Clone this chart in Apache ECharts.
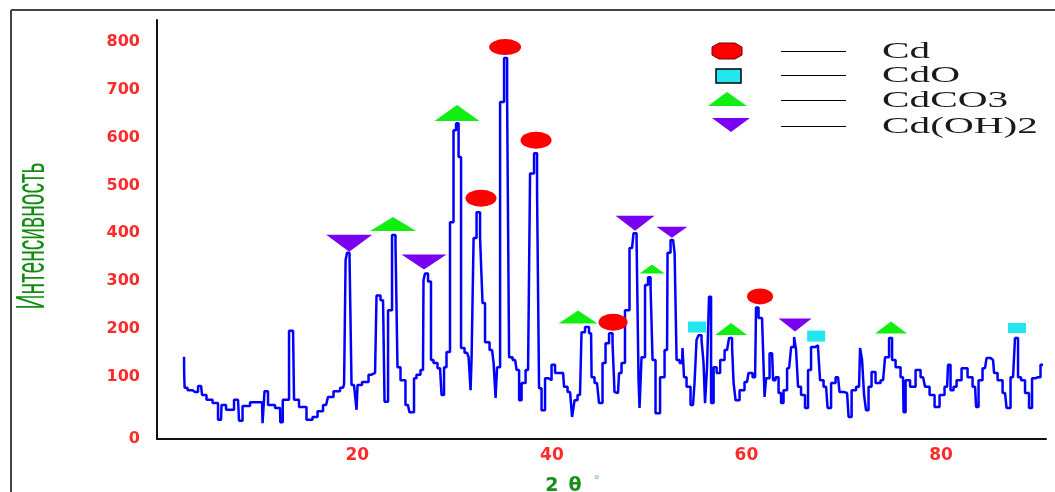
<!DOCTYPE html>
<html>

	<head>
		<meta charset="utf-8">
		<title>XRD</title>
		<script src="https://cdn.jsdelivr.net/npm/echarts@6/dist/echarts.min.js"></script>
	</head>

	<body style="margin:0;background:#fff;">
		<div id="main" style="width:1055px;height:492px;"></div>

		<script type="text/javascript">
			// diffractogram
			var twoTheta = [
				2.18, 2.20, 2.28, 2.80, 3.31, 3.93, 4.13, 4.85, 5.37, 5.98, 6.09, 6.91, 7.73, 7.94, 8.45, 9.48, 10.20, 10.30, 10.61, 11.02,
				12.05, 12.10, 12.56, 13.39, 13.59, 14.41, 15.13, 15.65, 16.16, 16.78, 17.19, 17.91, 18.53, 18.74, 18.84, 19.04, 19.35, 19.45, 19.86, 19.97,
				20.07, 20.89, 21.41, 21.82, 22.12, 22.64, 22.95, 23.36, 23.77, 24.07, 24.18, 24.69, 25.20, 25.51, 25.72, 25.93, 26.23, 26.75, 26.85, 27.06,
				27.47, 27.67, 27.98, 28.50, 28.81, 29.01, 29.32, 29.73, 30.04, 30.25, 30.56, 30.76, 31.28, 31.59, 31.69, 31.80, 32.10, 32.41, 32.82, 32.92,
				33.33, 33.85, 34.16, 34.26, 34.47, 34.88, 35.29, 35.50, 35.70, 36.22, 36.53, 36.73, 37.04, 37.55, 37.96, 38.37, 38.58, 38.78, 39.09, 39.50,
				39.81, 40.12, 40.53, 41.15, 41.35, 41.87, 42.28, 42.38, 42.89, 43.20, 43.61, 44.03, 44.13, 44.64, 45.05, 45.36, 45.67, 46.08, 46.39, 46.49,
				46.80, 47.01, 47.31, 47.72, 48.24, 48.55, 48.86, 48.96, 49.06, 49.37, 49.78, 49.99, 50.30, 50.40, 50.91, 51.33, 51.84, 51.94, 52.46, 52.77,
				52.87, 53.38, 53.48, 53.69, 54.00, 54.51, 54.82, 54.92, 55.23, 55.54, 55.64, 55.85, 56.05, 56.26, 56.47, 56.78, 57.10, 57.50, 58.01, 58.42,
				58.63, 58.73, 59.04, 59.55, 60.06, 60.37, 60.89, 61.09, 61.40, 61.81, 61.92, 62.12, 62.64, 62.84, 63.15, 63.46, 63.66, 63.97, 64.39, 64.80,
				65.00, 65.21, 65.41, 65.82, 66.23, 66.44, 66.85, 67.26, 67.47, 67.67, 68.19, 68.50, 68.91, 69.42, 69.73, 70.35, 70.66, 70.97, 71.58, 71.79,
				71.99, 72.20, 72.40, 72.71, 73.02, 73.53, 74.05, 74.46, 74.87, 75.08, 75.59, 76.10, 76.21, 76.52, 77.13, 77.65, 78.16, 78.57, 79.09, 79.60,
				80.11, 80.63, 80.83, 81.14, 81.45, 81.76, 82.48, 82.99, 83.51, 83.71, 84.02, 84.53, 84.84, 85.36, 85.56, 86.08, 86.59, 86.90, 87.41, 87.82,
				88.03, 88.44, 88.85, 89.26, 89.47, 89.98, 90.49
			];
			var intensity = [
				142, 110, 77, 72, 68, 81, 62, 52, 45, 10, 41, 31, 52, 8, 39, 47, 47, 3, 70, 41,
				35, 5, 52, 196, 52, 37, 10, 16, 28, 41, 58, 70, 77, 85, 344, 359, 348, 83, 81, 31,
				83, 89, 104, 108, 270, 260, 48, 239, 396, 379, 120, 93, 41, 26, 26, 97, 104, 114, 302, 316,
				299, 135, 129, 118, 62, 120, 152, 423, 615, 630, 559, 160, 150, 141, 72, 141, 390, 444, 390, 254,
				172, 156, 129, 56, 120, 674, 766, 684, 141, 135, 114, 51, 87, 114, 525, 567, 486, 76, 30, 97,
				93, 125, 108, 108, 79, 68, 16, 51, 62, 193, 204, 191, 99, 87, 45, 129, 170, 191, 170, 68,
				66, 108, 129, 239, 369, 400, 386, 93, 35, 141, 292, 308, 287, 135, 24, 99, 156, 359, 386, 359,
				135, 129, 160, 99, 79, 41, 87, 177, 187, 177, 129, 45, 120, 267, 45, 120, 108, 135, 156, 181,
				162, 87, 51, 72, 89, 108, 99, 245, 223, 219, 58, 97, 149, 93, 99, 66, 45, 72, 118, 162,
				183, 156, 79, 62, 35, 114, 162, 166, 160, 93, 79, 35, 87, 99, 68, 66, 16, 72, 79, 160,
				135, 62, 30, 79, 110, 87, 93, 141, 181, 135, 120, 99, 26, 93, 79, 114, 99, 79, 62, 37,
				62, 79, 125, 72, 79, 93, 118, 99, 79, 37, 93, 118, 139, 135, 108, 93, 66, 35, 99, 181,
				99, 93, 66, 35, 97, 99, 125
			];

			// phase markers [2θ, height of the marker]
			var cdPeaks = [[32.71, 473], [35.19, 789], [38.37, 594], [46.29, 214], [61.40, 268]];
			var cdoPeaks = [[54.92, 204], [67.17, 185], [87.82, 202]];
			var cdco3Peaks = [[23.67, 419], [30.25, 651], [42.69, 225], [50.30, 325], [58.42, 200], [74.87, 203]];
			var cdoh2Peaks = [[19.16, 379], [26.85, 340], [48.55, 421], [52.34, 402], [65.00, 208]];

			var phaseNames = ['Cd', 'CdO', 'CdCO3', 'Cd(OH)2'];
			var xTicks = [20, 40, 60, 80];
			var yTicks = [0, 100, 200, 300, 400, 500, 600, 700, 800];

			// axis ends (the 0 label sits on the bottom of the axis)
			var xMin = -0.6, xMax = 90.8;
			var yMin = -30, yMax = 845.5;

			var spectrum = twoTheta.map(function(t, i) {
				return [t, intensity[i]];
			});

			// symbol sizes for each marker
			var cdSizes = [[31, 17], [32, 16], [31, 17], [29, 17], [26, 16]];
			var cdoSizes = [[18, 11], [18, 11], [18, 10]];
			var cdco3Sizes = [[46, 14], [45, 16], [39, 13], [25, 9], [32, 12], [32, 12]];
			var cdoh2Sizes = [[46, 17], [45, 15], [39, 15], [31, 11], [33, 13]];

			function markers(name, pts, sizes, symbol, color, rotate) {
				return {
					name: name,
					type: 'scatter',
					z: 5,
					symbol: symbol,
					symbolRotate: rotate || 0,
					itemStyle: { color: color, opacity: 1 },
					data: pts.map(function(p, i) {
						return { value: p, symbolSize: sizes[i] };
					})
				};
			}

			var legendRows = [51.5, 75.5, 100.5, 126.5];

			var legendGraphics = [];
			// symbols
			legendGraphics.push({ type: 'polygon', x: 727, y: 51, shape: { points: [[-15, -4], [-8, -8], [8, -8], [15, -4], [15, 4], [8, 8], [-8, 8], [-15, 4]] }, style: { fill: '#ff0000', stroke: '#700', lineWidth: 1 } });
			legendGraphics.push({ type: 'rect', shape: { x: 716, y: 69, width: 25, height: 14 }, style: { fill: '#22e6f0', stroke: '#000', lineWidth: 1.5 } });
			legendGraphics.push({ type: 'polygon', shape: { points: [[708, 106], [727, 92], [747, 106]] }, style: { fill: '#11ee11' } });
			legendGraphics.push({ type: 'polygon', shape: { points: [[712, 118], [750, 118], [731, 132]] }, style: { fill: '#7a00f0' } });
			legendRows.forEach(function(y, i) {
				legendGraphics.push({ type: 'line', shape: { x1: 781, y1: y, x2: 846, y2: y }, style: { stroke: '#000', lineWidth: 1 } });
				legendGraphics.push({
					type: 'text', x: 882, y: y, scaleX: 1.72,
					style: { text: phaseNames[i], font: '24px "Liberation Serif"', fill: '#1a1a1a', textAlign: 'left', textVerticalAlign: 'middle' }
				});
			});

			var myChart = echarts.init(document.getElementById('main'));

			var option = {
				animation: false,
				backgroundColor: '#fff',
				grid: { left: 157, right: 9, top: 20, bottom: 53, outerBoundsMode: 'none' },
				xAxis: {
					type: 'value',
					min: xMin,
					max: xMax,
					axisLine: { show: true, onZero: false, lineStyle: { color: '#111', width: 2 } },
					axisTick: { show: false },
					splitLine: { show: false },
					axisLabel: {
						customValues: xTicks,
						margin: 8,
						color: '#ff2a2a',
						fontFamily: 'DejaVu Sans',
						fontWeight: 'bold',
						fontSize: 17
					},
					name: '{a|2}{b|θ}{c|°}',
					nameLocation: 'middle',
					nameGap: 36,
					nameTextStyle: {
						padding: [0, 58, 0, 0],
						rich: {
							a: { color: '#178f17', fontFamily: 'DejaVu Sans', fontWeight: 'bold', fontSize: 19, padding: [0, 10, 0, 0] },
							b: { color: '#178f17', fontFamily: 'DejaVu Sans', fontWeight: 'bold', fontSize: 19, padding: [0, 12, 0, 0] },
							c: { color: '#8fcb8f', fontFamily: 'DejaVu Sans', fontWeight: 'bold', fontSize: 12, verticalAlign: 'top', padding: [0, 0, 10, 0] }
						}
					}
				},
				yAxis: {
					type: 'value',
					min: yMin,
					max: yMax,
					axisLine: { show: true, onZero: false, lineStyle: { color: '#111', width: 2 } },
					axisTick: { show: false },
					splitLine: { show: false },
					axisLabel: {
						customValues: yTicks.map(function(v) { return v === 0 ? yMin : v; }),
						formatter: function(v) { return v <= yMin ? '0' : String(v); },
						margin: 17,
						color: '#ff2a2a',
						fontFamily: 'DejaVu Sans',
						fontWeight: 'bold',
						fontSize: 16
					}
				},
				graphic: [
					// outer frame
					{ type: 'line', shape: { x1: 11, y1: 10, x2: 1055, y2: 10 }, style: { stroke: '#444', lineWidth: 2 } },
					{ type: 'line', shape: { x1: 11, y1: 10, x2: 11, y2: 492 }, style: { stroke: '#444', lineWidth: 2 } },
					// y title
					{
						type: 'text', x: 33, y: 236, rotation: Math.PI / 2, scaleY: 1.9,
						style: { text: 'Интенсивность', font: '21px "Liberation Sans"', fill: '#138c13', textAlign: 'center', textVerticalAlign: 'middle' }
					}
				].concat(legendGraphics),
				series: [{
						name: 'XRD',
						type: 'line',
						step: 'middle',
						symbol: 'none',
						z: 2,
						lineStyle: { color: '#0000ff', width: 2.5 },
						data: spectrum
					},
					markers(phaseNames[0], cdPeaks, cdSizes, 'circle', '#ff0000'),
					markers(phaseNames[1], cdoPeaks, cdoSizes, 'rect', '#22e6f0'),
					markers(phaseNames[2], cdco3Peaks, cdco3Sizes, 'triangle', '#11ee11'),
					markers(phaseNames[3], cdoh2Peaks, cdoh2Sizes, 'triangle', '#7a00f0', 180)
				]
			};

			myChart.setOption(option);
		</script>
	</body>

</html>
